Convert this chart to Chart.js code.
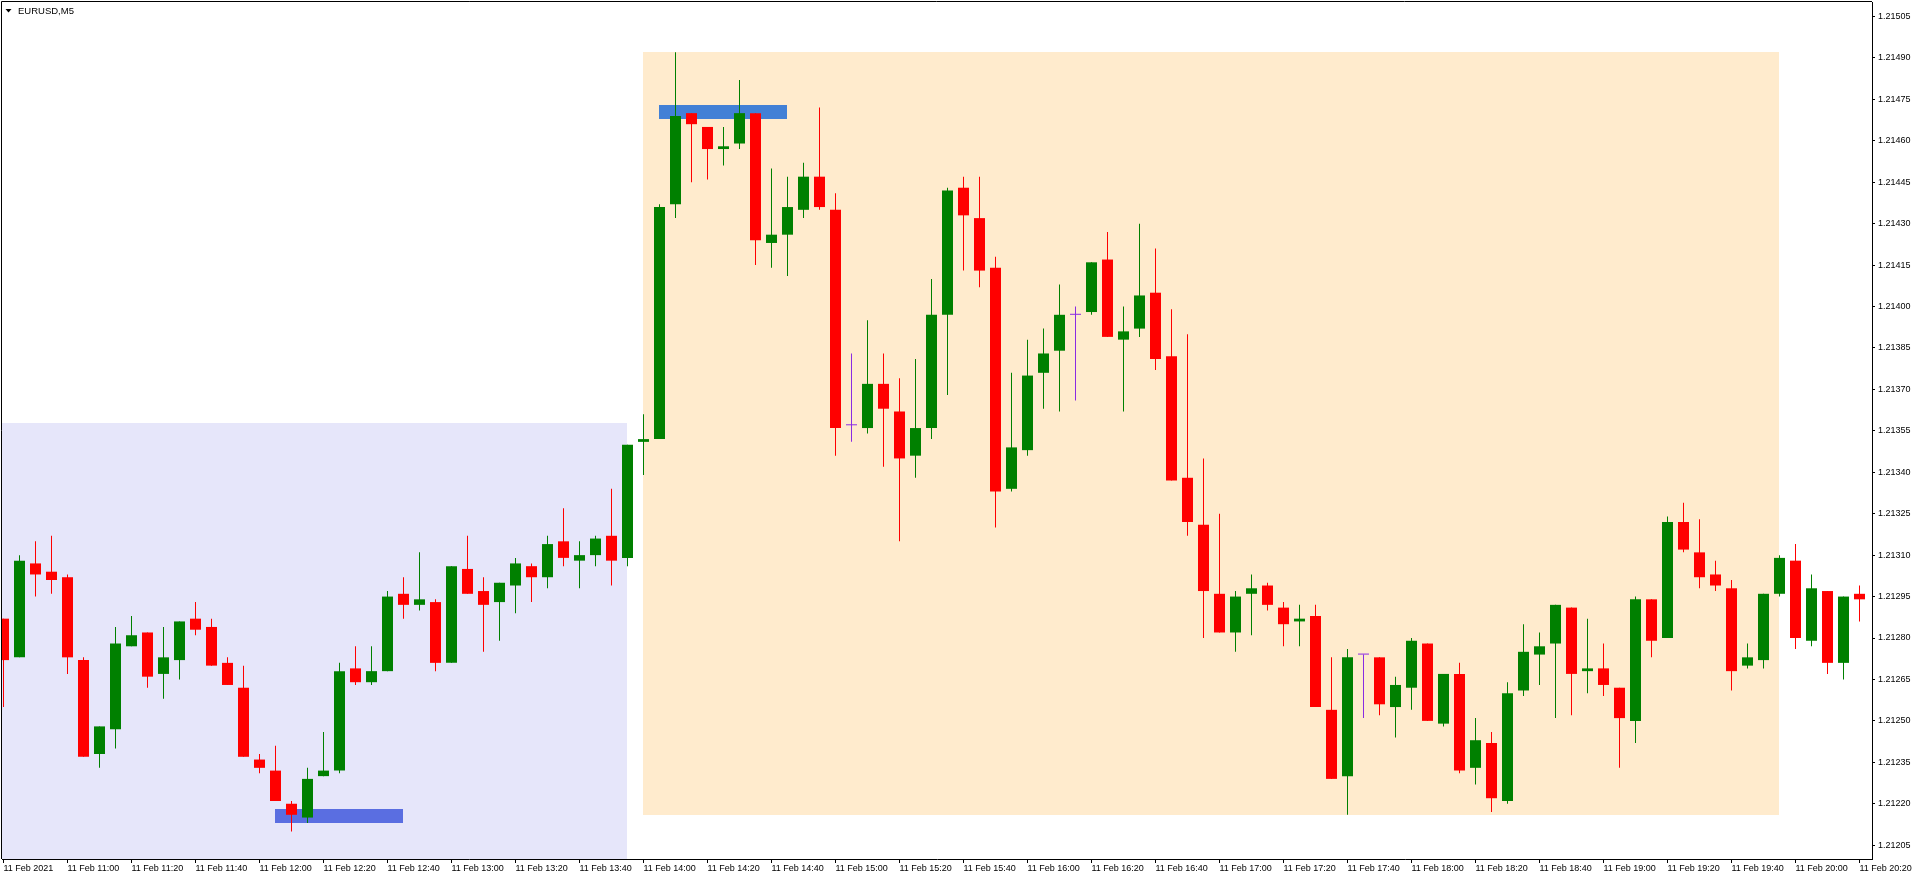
<!DOCTYPE html>
<html>
<head>
<meta charset="utf-8">
<script src="https://cdn.jsdelivr.net/npm/chart.js@4.4.1/dist/chart.umd.min.js"></script>
<style>html,body{margin:0;padding:0;background:#ffffff;overflow:hidden}canvas{display:block}</style>
</head>
<body>
<canvas id="c" width="1918" height="880"></canvas>
<script>
// ---- data (EURUSD, M5, 11 Feb 2021) ----
const times = [
'10:40','10:45','10:50','10:55',
'11:00','11:05','11:10','11:15','11:20','11:25','11:30','11:35','11:40','11:45','11:50','11:55',
'12:00','12:05','12:10','12:15','12:20','12:25','12:30','12:35','12:40','12:45','12:50','12:55',
'13:00','13:05','13:10','13:15','13:20','13:25','13:30','13:35','13:40','13:45','13:50','13:55',
'14:00','14:05','14:10','14:15','14:20','14:25','14:30','14:35','14:40','14:45','14:50','14:55',
'15:00','15:05','15:10','15:15','15:20','15:25','15:30','15:35','15:40','15:45','15:50','15:55',
'16:00','16:05','16:10','16:15','16:20','16:25','16:30','16:35','16:40','16:45','16:50','16:55',
'17:00','17:05','17:10','17:15','17:20','17:25','17:30','17:35','17:40','17:45','17:50','17:55',
'18:00','18:05','18:10','18:15','18:20','18:25','18:30','18:35','18:40','18:45','18:50','18:55',
'19:00','19:05','19:10','19:15','19:20','19:25','19:30','19:35','19:40','19:45','19:50','19:55',
'20:00','20:05','20:10','20:15','20:20'];

const openP = [
1.21287,1.21273,1.21307,1.21304, 1.21302,1.21272,1.21238,1.21247, 1.21277,1.21282,1.21267,1.21272, 1.21287,1.21284,1.21271,1.21262,
1.21236,1.21232,1.21220,1.21215, 1.21230,1.21232,1.21269,1.21264, 1.21268,1.21296,1.21292,1.21293, 1.21271,1.21305,1.21297,1.21293,
1.21299,1.21306,1.21302,1.21315, 1.21308,1.21310,1.21317,1.21309, 1.21351,1.21352,1.21437,1.21470, 1.21465,1.21457,1.21459,1.21470,
1.21423,1.21426,1.21435,1.21447, 1.21435,1.21357,1.21356,1.21372, 1.21362,1.21346,1.21356,1.21397, 1.21443,1.21432,1.21414,1.21334,
1.21348,1.21376,1.21384,1.21397, 1.21398,1.21417,1.21388,1.21392, 1.21405,1.21382,1.21338,1.21321, 1.21296,1.21282,1.21296,1.21299,
1.21291,1.21286,1.21288,1.21254, 1.21230,1.21274,1.21273,1.21255, 1.21262,1.21278,1.21249,1.21267, 1.21233,1.21242,1.21221,1.21261,
1.21274,1.21278,1.21291,1.21268, 1.21269,1.21262,1.21250,1.21294, 1.21280,1.21322,1.21311,1.21303, 1.21298,1.21270,1.21272,1.21296,
1.21308,1.21279,1.21297,1.21271, 1.21296];

const highP = [
1.21287,1.21310,1.21315,1.21317, 1.21303,1.21273,1.21248,1.21284, 1.21288,1.21282,1.21284,1.21286, 1.21293,1.21287,1.21273,1.21270,
1.21238,1.21241,1.21221,1.21233, 1.21246,1.21271,1.21277,1.21277, 1.21297,1.21302,1.21311,1.21294, 1.21306,1.21317,1.21302,1.21300,
1.21309,1.21307,1.21317,1.21327, 1.21315,1.21317,1.21334,1.21350, 1.21361,1.21437,1.21492,1.21470, 1.21465,1.21465,1.21482,1.21470,
1.21450,1.21447,1.21452,1.21472, 1.21441,1.21383,1.21395,1.21383, 1.21374,1.21381,1.21410,1.21443, 1.21447,1.21447,1.21418,1.21376,
1.21388,1.21392,1.21408,1.21400, 1.21416,1.21427,1.21400,1.21430, 1.21421,1.21399,1.21390,1.21345, 1.21325,1.21297,1.21303,1.21300,
1.21293,1.21292,1.21292,1.21273, 1.21276,1.21274,1.21273,1.21266, 1.21280,1.21278,1.21267,1.21271, 1.21251,1.21246,1.21264,1.21285,
1.21282,1.21292,1.21291,1.21287, 1.21278,1.21262,1.21295,1.21294, 1.21324,1.21329,1.21323,1.21308, 1.21301,1.21278,1.21296,1.21310,
1.21314,1.21303,1.21297,1.21295, 1.21299];

const lowP = [
1.21255,1.21273,1.21295,1.21296, 1.21267,1.21237,1.21233,1.21240, 1.21277,1.21262,1.21258,1.21265, 1.21281,1.21270,1.21263,1.21237,
1.21231,1.21221,1.21210,1.21213, 1.21230,1.21231,1.21263,1.21263, 1.21268,1.21287,1.21290,1.21268, 1.21271,1.21296,1.21275,1.21279,
1.21289,1.21293,1.21298,1.21306, 1.21298,1.21306,1.21299,1.21306, 1.21339,1.21352,1.21432,1.21445, 1.21446,1.21451,1.21457,1.21415,
1.21414,1.21411,1.21432,1.21435, 1.21346,1.21351,1.21354,1.21342, 1.21315,1.21338,1.21352,1.21368, 1.21413,1.21407,1.21320,1.21333,
1.21346,1.21363,1.21362,1.21366, 1.21397,1.21389,1.21362,1.21389, 1.21377,1.21337,1.21317,1.21280, 1.21282,1.21275,1.21281,1.21290,
1.21277,1.21277,1.21255,1.21229, 1.21216,1.21251,1.21252,1.21244, 1.21254,1.21250,1.21248,1.21231, 1.21227,1.21217,1.21220,1.21259,
1.21263,1.21251,1.21252,1.21260, 1.21259,1.21233,1.21242,1.21273, 1.21280,1.21311,1.21298,1.21297, 1.21261,1.21269,1.21269,1.21295,
1.21276,1.21277,1.21267,1.21265, 1.21286];

const closeP = [
1.21272,1.21308,1.21303,1.21301, 1.21273,1.21237,1.21248,1.21278, 1.21281,1.21266,1.21273,1.21286, 1.21283,1.21270,1.21263,1.21237,
1.21233,1.21221,1.21216,1.21229, 1.21232,1.21268,1.21264,1.21268, 1.21295,1.21292,1.21294,1.21271, 1.21306,1.21296,1.21292,1.21300,
1.21307,1.21302,1.21314,1.21309, 1.21310,1.21316,1.21308,1.21350, 1.21352,1.21436,1.21469,1.21466, 1.21457,1.21458,1.21470,1.21424,
1.21426,1.21436,1.21447,1.21436, 1.21356,1.21357,1.21372,1.21363, 1.21345,1.21356,1.21397,1.21442, 1.21433,1.21413,1.21333,1.21349,
1.21375,1.21383,1.21397,1.21397, 1.21416,1.21389,1.21391,1.21404, 1.21381,1.21337,1.21322,1.21297, 1.21282,1.21295,1.21298,1.21292,
1.21285,1.21287,1.21255,1.21229, 1.21273,1.21274,1.21256,1.21263, 1.21279,1.21250,1.21267,1.21232, 1.21243,1.21222,1.21260,1.21275,
1.21277,1.21292,1.21267,1.21269, 1.21263,1.21251,1.21294,1.21279, 1.21322,1.21312,1.21302,1.21299, 1.21268,1.21273,1.21296,1.21309,
1.21280,1.21298,1.21271,1.21295, 1.21294];

const tickIdx = [0,4,8,12,16,20,24,28,32,36,40,44,48,52,56,60,64,68,72,76,80,84,88,92,96,100,104,108,112,116];
const tickLabels = ['11 Feb 2021','11 Feb 11:00','11 Feb 11:20','11 Feb 11:40','11 Feb 12:00','11 Feb 12:20',
'11 Feb 12:40','11 Feb 13:00','11 Feb 13:20','11 Feb 13:40','11 Feb 14:00','11 Feb 14:20','11 Feb 14:40',
'11 Feb 15:00','11 Feb 15:20','11 Feb 15:40','11 Feb 16:00','11 Feb 16:20','11 Feb 16:40','11 Feb 17:00',
'11 Feb 17:20','11 Feb 17:40','11 Feb 18:00','11 Feb 18:20','11 Feb 18:40','11 Feb 19:00','11 Feb 19:20',
'11 Feb 19:40','11 Feb 20:00','11 Feb 20:20'];
const priceTicks = [1.21205,1.21220,1.21235,1.21250,1.21265,1.21280,1.21295,1.21310,1.21325,1.21340,1.21355,
1.21370,1.21385,1.21400,1.21415,1.21430,1.21445,1.21460,1.21475,1.21490,1.21505];

// rectangle objects: bar index span and price span
const zoneStart  = [-3, 40, 17, 41];
const zoneEnd    = [39, 111, 25, 49];
const zoneTop    = [1.21358, 1.21492, 1.21218, 1.21473];
const zoneBottom = [1.21150, 1.21216, 1.21213, 1.21468];
const symbolTitle = 'EURUSD,M5';

// ---- styles ----
const GREEN = '#008000', RED = '#ff0000', DOJI = '#8a2be2';
const ZONE_COLORS = ['#e6e6fa', '#ffebcd', '#5a6ee1', '#4280d6'];
const candleColors = times.map((t, i) => closeP[i] > openP[i] ? GREEN : (closeP[i] < openP[i] ? RED : DOJI));

Chart.defaults.font.family = "'Liberation Sans', Arial, sans-serif";
Chart.defaults.font.size = 9;
Chart.defaults.color = '#000000';

const zonePlugin = {
  id: 'zones',
  beforeDatasetsDraw(chart) {
    const { ctx, chartArea: a, scales: { x, y } } = chart;
    ctx.save();
    ctx.beginPath();
    ctx.rect(a.left, a.top, a.right - a.left, a.bottom - a.top);
    ctx.clip();
    for (let i = 0; i < zoneStart.length; i++) {
      const x0 = Math.floor(x.getPixelForValue(zoneStart[i]));
      const x1 = Math.floor(x.getPixelForValue(zoneEnd[i]));
      const y0 = Math.round(y.getPixelForValue(zoneTop[i]));
      const y1 = Math.round(y.getPixelForValue(zoneBottom[i]));
      ctx.fillStyle = ZONE_COLORS[i];
      ctx.fillRect(x0, y0, x1 - x0, y1 - y0);
    }
    ctx.restore();
  }
};

const framePlugin = {
  id: 'frame',
  afterDraw(chart) {
    const { ctx, chartArea: a } = chart;
    ctx.save();
    ctx.strokeStyle = '#000';
    ctx.lineWidth = 1;
    ctx.beginPath();
    ctx.moveTo(a.left - 0.5, a.bottom);
    ctx.lineTo(a.left - 0.5, a.top - 0.5);
    ctx.lineTo(a.right, a.top - 0.5);
    ctx.stroke();
    // title
    ctx.fillStyle = '#000';
    ctx.beginPath();
    ctx.moveTo(5.5, 9);
    ctx.lineTo(11.5, 9);
    ctx.lineTo(8.5, 12.5);
    ctx.closePath();
    ctx.fill();
    ctx.font = "9.5px 'Liberation Sans', Arial, sans-serif";
    ctx.textBaseline = 'middle';
    ctx.textAlign = 'left';
    ctx.fillText(symbolTitle, 18, 11);
    ctx.restore();
  }
};

new Chart(document.getElementById('c'), {
  type: 'bar',
  data: {
    datasets: [
      {
        label: 'body',
        data: times.map((t, i) => ({ x: i, y: [openP[i], closeP[i]] })),
        backgroundColor: candleColors,
        barThickness: 11,
        minBarLength: 1,
        grouped: false,
        borderWidth: 0,
        inflateAmount: 0
      },
      {
        label: 'wick',
        data: times.map((t, i) => ({ x: i, y: [lowP[i], highP[i]] })),
        backgroundColor: candleColors,
        barThickness: 1,
        grouped: false,
        borderWidth: 0,
        inflateAmount: 0
      }
    ]
  },
  options: {
    responsive: false,
    animation: false,
    devicePixelRatio: 1,
    layout: { padding: { left: 2, top: 2, right: 0, bottom: 0 } },
    plugins: { legend: { display: false }, tooltip: { enabled: false } },
    scales: {
      x: {
        type: 'linear',
        offset: false,
        min: -0.09375,
        max: 116.78125,
        grid: { display: true, offset: false, drawOnChartArea: false, drawTicks: true, tickLength: 4, color: '#000', tickColor: '#000' },
        border: { display: true, color: '#000', width: 1 },
        afterBuildTicks: (s) => { s.ticks = tickIdx.map(v => ({ value: v })); },
        afterFit: (s) => { s.height = 21; s.paddingLeft = 0; s.paddingRight = 0; },
        ticks: {
          autoSkip: false, maxRotation: 0, minRotation: 0, align: 'start', padding: 0,
          callback: (v, i) => tickLabels[i]
        }
      },
      y: {
        type: 'linear',
        position: 'right',
        min: 1.21200,
        max: 1.2151023,
        grid: { display: true, drawOnChartArea: false, drawTicks: true, tickLength: 3, color: '#000', tickColor: '#000' },
        border: { display: true, color: '#000', width: 1 },
        afterBuildTicks: (s) => { s.ticks = priceTicks.map(v => ({ value: v })); },
        afterFit: (s) => { s.width = 46; s.paddingTop = 0; s.paddingBottom = 0; },
        ticks: { autoSkip: false, padding: 3, callback: (v) => Number(v).toFixed(5) }
      }
    }
  },
  plugins: [zonePlugin, framePlugin]
});
</script>
</body>
</html>
